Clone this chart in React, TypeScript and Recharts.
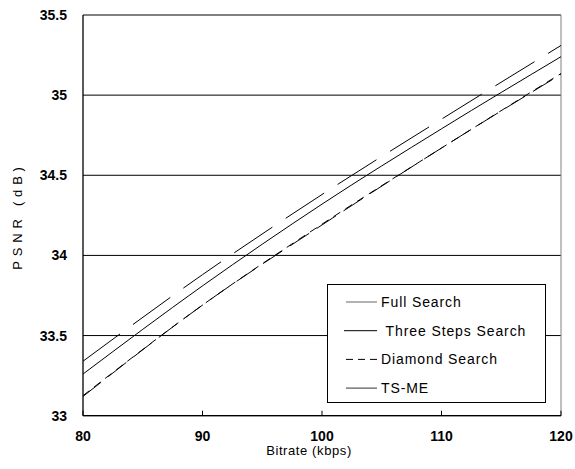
import React from "react";
import {
  LineChart,
  Line,
  XAxis,
  YAxis,
  CartesianGrid,
  ReferenceLine,
} from "recharts";

const bitrate = [80, 90, 100, 110, 120];
const fullSearch = [33.26, 33.81, 34.32, 34.79, 35.24];
const threeSteps = [33.12, 33.69, 34.19, 34.67, 35.13];
const diamond = [33.125, 33.69, 34.195, 34.67, 35.135];
const tsme = [33.34, 33.88, 34.38, 34.85, 35.31];

const xTicks = [80, 90, 100, 110, 120];
const yTicks = [33, 33.5, 34, 34.5, 35, 35.5];
const yTickLabels = ["33", "33.5", "34", "34.5", "35", "35.5"];

const xTitle = "Bitrate (kbps)";
const yTitle = "PSNR (dB)";

const data = bitrate.map((b, i) => ({
  bitrate: b,
  full: fullSearch[i],
  three: threeSteps[i],
  diamond: diamond[i],
  tsme: tsme[i],
}));

const series = [
  { key: "full", name: "Full Search", dash: undefined, legendDash: undefined, color: "#000", legendColor: "#666", legendX1: 19, legendLabel: "Full Search" },
  { key: "three", name: "Three Steps Search", dash: "23 9", legendDash: undefined, color: "#000", legendColor: "#000", legendX1: 17, legendLabel: " Three Steps Search" },
  { key: "diamond", name: "Diamond Search", dash: "8 6", legendDash: "7 5", color: "#000", legendColor: "#000", legendX1: 19, legendLabel: "Diamond Search" },
  { key: "tsme", name: "TS-ME", dash: "46 16", legendDash: undefined, color: "#000", legendColor: "#333", legendX1: 19, legendLabel: "TS-ME" },
];

const FONT = "'Liberation Sans', Arial, sans-serif";

const XTick = (props: any) => {
  const { x, y, payload } = props;
  return (
    <g>
      <line x1={x} x2={x} y1={y} y2={y - 5} stroke="#000" strokeWidth={1} />
      <text x={x} y={y + 25.5} textAnchor="middle" fontFamily={FONT} fontWeight="bold" fontSize={14} fill="#000">
        {payload.value}
      </text>
    </g>
  );
};

const YTick = (props: any) => {
  const { y, payload } = props;
  const idx = yTicks.indexOf(payload.value);
  return (
    <text x={67} y={y + 5} textAnchor="end" fontFamily={FONT} fontWeight="bold" fontSize={14} fill="#000">
      {idx >= 0 ? yTickLabels[idx] : payload.value}
    </text>
  );
};

const LegendBox = () => (
  <div
    style={{
      position: "absolute",
      left: 327,
      top: 284,
      width: 219,
      height: 119,
      border: "1px solid #000",
      background: "#fff",
      boxSizing: "border-box",
    }}
  >
    <svg width={219} height={119} style={{ position: "absolute", left: -1, top: -1 }}>
      {series.map((s, i) => {
        const cy = 18 + i * 28.7;
        return (
          <g key={s.key}>
            <line
              x1={s.legendX1}
              x2={50}
              y1={cy}
              y2={cy}
              stroke={s.legendColor}
              strokeWidth={1}
              strokeDasharray={s.legendDash}
            />
            <text
              x={54}
              y={cy + 5}
              fontFamily={FONT}
              fontSize={14}
              letterSpacing={0.9}
              fill="#000"
              style={{ whiteSpace: "pre" }}
            >
              {s.legendLabel}
            </text>
          </g>
        );
      })}
    </svg>
  </div>
);

const Titles = () => (
  <svg width={575} height={469} style={{ position: "absolute", left: 0, top: 0, pointerEvents: "none" }}>
    <text x={309} y={455} textAnchor="middle" fontFamily={FONT} fontSize={13} letterSpacing={0.6} fill="#000">
      {xTitle}
    </text>
    <text
      x={0}
      y={0}
      transform="translate(22 216) rotate(-90)"
      textAnchor="middle"
      fontFamily={FONT}
      fontSize={13}
      letterSpacing={4.8}
      fill="#000"
    >
      {yTitle}
    </text>
  </svg>
);

export default function App() {
  return (
    <div style={{ position: "absolute", left: 0, top: 0, width: 575, height: 469, background: "#fff" }}>
      <LineChart
        width={575}
        height={469}
        data={data}
        margin={{ top: 15, right: 14, bottom: 0, left: 0 }}
      >
        <CartesianGrid vertical={false} stroke="#000" strokeWidth={1} horizontalValues={yTicks} />
        <ReferenceLine y={35.5} stroke="#808080" strokeWidth={1} />
        <ReferenceLine x={120} stroke="#808080" strokeWidth={1} />
        <XAxis
          dataKey="bitrate"
          type="number"
          domain={[80, 120]}
          ticks={xTicks}
          interval={0}
          height={53.3}
          tickSize={0}
          tickMargin={0}
          tickLine={false}
          axisLine={{ stroke: "#000", strokeWidth: 1.3 }}
          tick={<XTick />}
        />
        <YAxis
          type="number"
          domain={[33, 35.5]}
          ticks={yTicks}
          interval={0}
          width={83}
          tickSize={0}
          tickMargin={0}
          tickLine={false}
          axisLine={{ stroke: "#000", strokeWidth: 1.3 }}
          tick={<YTick />}
        />
        {series.map((s) => (
          <Line
            key={s.key}
            type="monotone"
            dataKey={s.key}
            name={s.name}
            stroke={s.color}
            strokeWidth={1}
            strokeDasharray={s.dash}
            dot={false}
            activeDot={false}
            isAnimationActive={false}
          />
        ))}
      </LineChart>
      <LegendBox />
      <Titles />
    </div>
  );
}
